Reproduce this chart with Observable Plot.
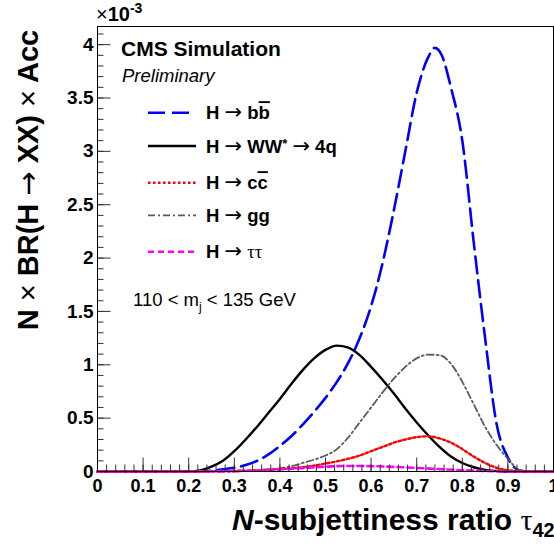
<!DOCTYPE html>
<html><head><meta charset="utf-8">
<script src="https://cdn.jsdelivr.net/npm/d3@7"></script>
<script src="https://cdn.jsdelivr.net/npm/@observablehq/plot@0.6"></script>
<style>
html,body{margin:0;padding:0;background:#fff;}
#chart{width:554px;height:549px;overflow:hidden;}
</style></head><body><div id="chart"></div>
<script>
// ---- data (values in units of 1e-3) ----
const bbX = [0, 0.1, 0.2, 0.225, 0.25, 0.275, 0.3, 0.325, 0.35, 0.375, 0.4, 0.425, 0.45, 0.475, 0.5, 0.525, 0.55, 0.575, 0.6, 0.625, 0.65, 0.675, 0.7, 0.725, 0.74, 0.755, 0.775, 0.8, 0.825, 0.85, 0.875, 0.9, 0.925, 0.95, 1];
const bbY = [0, 0, 0, 0.002, 0.008, 0.02, 0.035, 0.06, 0.1, 0.16, 0.24, 0.33, 0.44, 0.56, 0.69, 0.84, 1.02, 1.25, 1.55, 1.95, 2.45, 3.0, 3.55, 3.88, 3.97, 3.9, 3.6, 3.1, 2.15, 1.25, 0.45, 0.13, 0.01, 0, 0];

const wwX = [0, 0.1, 0.2, 0.225, 0.25, 0.275, 0.3, 0.325, 0.35, 0.375, 0.4, 0.425, 0.45, 0.475, 0.5, 0.525, 0.55, 0.575, 0.6, 0.625, 0.65, 0.675, 0.7, 0.725, 0.75, 0.775, 0.8, 0.825, 0.85, 0.875, 0.9, 0.95, 1];
const wwY = [0, 0, 0, 0.01, 0.045, 0.10, 0.19, 0.30, 0.42, 0.55, 0.68, 0.82, 0.95, 1.06, 1.14, 1.18, 1.16, 1.09, 0.98, 0.86, 0.73, 0.59, 0.46, 0.34, 0.23, 0.14, 0.08, 0.04, 0.015, 0.005, 0, 0, 0];

const ccX = [0, 0.1, 0.2, 0.25, 0.3, 0.35, 0.4, 0.45, 0.475, 0.5, 0.525, 0.55, 0.575, 0.6, 0.625, 0.65, 0.675, 0.7, 0.725, 0.75, 0.775, 0.8, 0.825, 0.85, 0.875, 0.9, 0.925, 0.95, 1];
const ccY = [0, 0, 0, 0.002, 0.005, 0.012, 0.022, 0.04, 0.055, 0.075, 0.095, 0.12, 0.15, 0.19, 0.23, 0.27, 0.30, 0.322, 0.33, 0.31, 0.27, 0.21, 0.14, 0.08, 0.035, 0.012, 0.003, 0, 0];

const ggX = [0, 0.1, 0.2, 0.3, 0.325, 0.35, 0.375, 0.4, 0.425, 0.45, 0.475, 0.5, 0.525, 0.55, 0.575, 0.6, 0.625, 0.65, 0.675, 0.7, 0.725, 0.75, 0.775, 0.8, 0.825, 0.85, 0.875, 0.9, 0.925, 0.95, 1];
const ggY = [0, 0, 0, 0, 0.005, 0.01, 0.02, 0.03, 0.05, 0.08, 0.11, 0.15, 0.21, 0.32, 0.46, 0.6, 0.74, 0.87, 0.98, 1.06, 1.095, 1.09, 1.01, 0.84, 0.63, 0.42, 0.25, 0.12, 0.015, 0, 0];

const ttX = [0, 0.1, 0.2, 0.3, 0.35, 0.4, 0.45, 0.5, 0.55, 0.6, 0.65, 0.7, 0.75, 0.8, 0.85, 0.9, 0.95, 1];
const ttY = [0, 0, 0, 0.005, 0.01, 0.02, 0.032, 0.045, 0.052, 0.05, 0.043, 0.033, 0.022, 0.012, 0.005, 0.001, 0, 0];

const seriesKeys = ["bb", "ww", "cc", "gg", "tt"];
const seriesData = {bb: [bbX, bbY], ww: [wwX, wwY], cc: [ccX, ccY], gg: [ggX, ggY], tt: [ttX, ttY]};

const xMajorTicks = [0, 0.1, 0.2, 0.3, 0.4, 0.5, 0.6, 0.7, 0.8, 0.9, 1];
const xTickLabels = ["0", "0.1", "0.2", "0.3", "0.4", "0.5", "0.6", "0.7", "0.8", "0.9", "1"];
const yMajorTicks = [0, 0.5, 1, 1.5, 2, 2.5, 3, 3.5, 4];
const yTickLabels = ["0", "0.5", "1", "1.5", "2", "2.5", "3", "3.5", "4"];

// ---- styles ----
const FONT = "'Liberation Sans', Arial, Helvetica, sans-serif";
const ARROWFONT = "'DejaVu Sans', sans-serif";
const styles = {
  bb: {stroke: "#0000ff", strokeWidth: 2.6, dash: "17,7"},
  ww: {stroke: "#000000", strokeWidth: 2.4, dash: null},
  cc: {stroke: "#ff0000", strokeWidth: 2.4, dash: "2.5,2.5"},
  gg: {stroke: "#5a5a5a", strokeWidth: 1.8, dash: "7,3,2,3"},
  tt: {stroke: "#ff00ff", strokeWidth: 2.6, dash: "6,4"}
};

const rows = seriesKeys.flatMap(k => seriesData[k][0].map((x, i) => ({key: k, x, y: seriesData[k][1][i]})));

const xMinor = d3.range(0, 1.0001, 0.02);
const yMinor = d3.range(0, 4.1001, 0.1);

const drawOrder = ["bb", "ww", "gg", "cc", "tt"];

const plot = Plot.plot({
  width: 554, height: 549,
  marginTop: 26, marginRight: 1, marginBottom: 78, marginLeft: 97,
  style: {fontFamily: FONT, background: "#fff"},
  x: {domain: [0, 1]},
  y: {domain: [0, 4.17]},
  marks: [
    ...drawOrder.map(k => Plot.line(rows.filter(r => r.key === k), {
      x: "x", y: "y", curve: "monotone-x",
      stroke: styles[k].stroke, strokeWidth: styles[k].strokeWidth,
      strokeDasharray: styles[k].dash
    })),
    Plot.axisX(xMinor, {tickSize: -6.5, tickFormat: () => "", label: null, stroke: "#333"}),
    Plot.axisX(xMajorTicks, {tickSize: -13.5, tickFormat: () => "", label: null, stroke: "#333"}),
    Plot.axisY(yMinor, {tickSize: -6.5, tickFormat: () => "", label: null, stroke: "#333"}),
    Plot.axisY(yMajorTicks, {tickSize: -13.5, tickFormat: () => "", label: null, stroke: "#333"}),
    Plot.axisX(xMajorTicks, {tickSize: 0, tickPadding: 8, tickFormat: (d, i) => xTickLabels[i], label: null, fontSize: 18, fontWeight: "bold", fill: "#000"}),
    Plot.axisY(yMajorTicks, {tickSize: 0, tickPadding: 4, tickFormat: (d, i) => yTickLabels[i], label: null, fontSize: 19, fontWeight: "bold", fill: "#000"}),
    Plot.frame({stroke: "#000"})
  ]
});
document.getElementById("chart").appendChild(plot);

// ---- annotations ----
const svg = d3.select(plot);
const g = svg.append("g").attr("font-family", FONT).attr("fill", "#000").attr("text-anchor", "start");

const arrow = (t, size) => {
  const a = t.append("tspan").attr("font-weight", "normal").attr("font-family", ARROWFONT).text("\u2192");
  if (size) a.attr("font-size", size);
  return a;
};

// multiplier
const mult = g.append("text").attr("x", 96).attr("y", 21).attr("font-size", 20);
mult.append("tspan").text("\u00d7");
mult.append("tspan").attr("font-weight", "bold").text("10");
mult.append("tspan").attr("font-weight", "bold").attr("font-size", 14).attr("dy", -8).text("-3");

g.append("text").attr("x", 121).attr("y", 56).attr("font-size", 21).attr("font-weight", "bold").text("CMS Simulation");
g.append("text").attr("x", 122).attr("y", 82).attr("font-size", 18.5).attr("font-style", "italic").text("Preliminary");

// legend
const legendRows = [112.7, 146, 182.7, 215.3, 251.7];
const AS = 21;
const legendLabels = {
  bb: t => { t.append("tspan").text("H "); arrow(t, AS); t.append("tspan").text(" b"); t.append("tspan").style("text-decoration", "overline").text("b"); },
  ww: t => { t.append("tspan").text("H "); arrow(t, AS); t.append("tspan").text(" WW"); t.append("tspan").attr("font-size", 13).attr("dy", -5).text("*"); t.append("tspan").attr("dy", 5).text(" "); arrow(t, AS); t.append("tspan").text(" 4q"); },
  cc: t => { t.append("tspan").text("H "); arrow(t, AS); t.append("tspan").text(" c"); t.append("tspan").style("text-decoration", "overline").text("c"); },
  gg: t => { t.append("tspan").text("H "); arrow(t, AS); t.append("tspan").text(" gg"); },
  tt: t => { t.append("tspan").text("H "); arrow(t, AS); t.append("tspan").text(" "); t.append("tspan").attr("font-weight", "normal").attr("font-family", "'Liberation Serif', serif").text("\u03c4\u03c4"); }
};
seriesKeys.forEach((k, i) => {
  const yy = legendRows[i];
  g.append("line").attr("x1", 148).attr("x2", 196).attr("y1", yy).attr("y2", yy)
    .attr("stroke", styles[k].stroke).attr("stroke-width", styles[k].strokeWidth)
    .attr("stroke-dasharray", styles[k].dash);
  const t = g.append("text").attr("x", 206).attr("y", yy + 6.5).attr("font-size", 18.5).attr("font-weight", "bold");
  legendLabels[k](t);
});

// mass window
const mw = g.append("text").attr("x", 133).attr("y", 306).attr("font-size", 18.5);
mw.append("tspan").text("110 < m");
mw.append("tspan").attr("font-size", 12).attr("dy", 5).text("j");
mw.append("tspan").attr("dy", -5).text(" < 135 GeV");

// y title
const yt = g.append("text").attr("transform", "translate(38,180) rotate(-90)")
  .attr("text-anchor", "middle").attr("font-size", 29).attr("font-weight", "bold");
yt.append("tspan").text("N ");
yt.append("tspan").attr("font-weight", "normal").text("\u00d7");
yt.append("tspan").text(" BR(H ");
arrow(yt);
yt.append("tspan").text(" XX) ");
yt.append("tspan").attr("font-weight", "normal").text("\u00d7");
yt.append("tspan").text(" Acc");

// x title
const xt = g.append("text").attr("x", 232).attr("y", 530).attr("font-size", 30).attr("font-weight", "bold");
xt.append("tspan").attr("font-style", "italic").text("N");
xt.append("tspan").text("-subjettiness ratio ");
xt.append("tspan").attr("font-weight", "normal").attr("font-family", "'Liberation Serif', serif").text("\u03c4");
xt.append("tspan").attr("font-size", 20).attr("dy", 7).text("42");
</script></body></html>
